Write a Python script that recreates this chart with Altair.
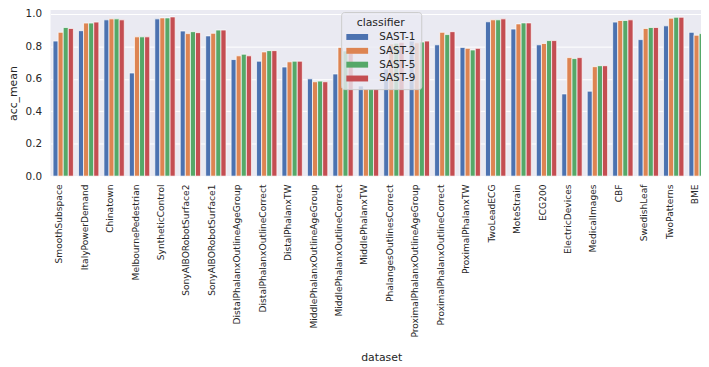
import altair as alt
import pandas as pd

datasets = [
    "SmoothSubspace", "ItalyPowerDemand", "Chinatown", "MelbournePedestrian",
    "SyntheticControl", "SonyAIBORobotSurface2", "SonyAIBORobotSurface1",
    "DistalPhalanxOutlineAgeGroup", "DistalPhalanxOutlineCorrect", "DistalPhalanxTW",
    "MiddlePhalanxOutlineAgeGroup", "MiddlePhalanxOutlineCorrect", "MiddlePhalanxTW",
    "PhalangesOutlinesCorrect", "ProximalPhalanxOutlineAgeGroup",
    "ProximalPhalanxOutlineCorrect", "ProximalPhalanxTW", "TwoLeadECG", "MoteStrain",
    "ECG200", "ElectricDevices", "MedicalImages", "CBF", "SwedishLeaf", "TwoPatterns", "BME",
]
classifiers = ["SAST-1", "SAST-2", "SAST-5", "SAST-9"]

sast1 = [0.833, 0.897, 0.964, 0.636, 0.970, 0.895, 0.865, 0.719, 0.709, 0.673, 0.600, 0.630, 0.556,
         0.661, 0.833, 0.810, 0.794, 0.952, 0.907, 0.810, 0.507, 0.524, 0.950, 0.842, 0.927, 0.887]
sast2 = [0.887, 0.944, 0.970, 0.859, 0.976, 0.879, 0.881, 0.742, 0.766, 0.705, 0.582, 0.794, 0.538,
         0.815, 0.822, 0.887, 0.788, 0.964, 0.939, 0.818, 0.731, 0.675, 0.960, 0.911, 0.974, 0.869]
sast5 = [0.917, 0.944, 0.970, 0.859, 0.976, 0.891, 0.901, 0.752, 0.774, 0.709, 0.586, 0.772, 0.538,
         0.820, 0.827, 0.873, 0.778, 0.964, 0.945, 0.836, 0.725, 0.681, 0.960, 0.917, 0.980, 0.879]
sast9 = [0.911, 0.950, 0.964, 0.859, 0.982, 0.885, 0.901, 0.742, 0.774, 0.709, 0.582, 0.760, 0.538,
         0.825, 0.833, 0.891, 0.788, 0.970, 0.945, 0.836, 0.731, 0.681, 0.964, 0.917, 0.980, 0.880]

palette = ["#4C72B0", "#DD8452", "#55A868", "#C44E52"]

rows = []
for i, d in enumerate(datasets):
    for c, vals in zip(classifiers, [sast1, sast2, sast5, sast9]):
        rows.append({"dataset": d, "classifier": c, "acc_mean": vals[i]})
df = pd.DataFrame(rows)

TXT = "#262626"

chart = alt.Chart(df).mark_bar(stroke="white", strokeWidth=0.7, clip=True).encode(
    x=alt.X(
        "dataset:N", sort=datasets, title="dataset",
        scale=alt.Scale(range=[0, 669], paddingInner=0.2, paddingOuter=0.1),
        axis=alt.Axis(labelAngle=-90, labelFontSize=9.2, labelPadding=8, labelOffset=-4,
                      ticks=False, domain=False, grid=False, titleFontSize=11,
                      titlePadding=15, labelColor=TXT, titleColor=TXT,
                      titleFontWeight="normal"),
    ),
    xOffset=alt.XOffset("classifier:N", sort=classifiers,
                        scale=alt.Scale(paddingInner=0, paddingOuter=0)),
    y=alt.Y(
        "acc_mean:Q", title="acc_mean",
        scale=alt.Scale(domain=[0, 1.0244], nice=False, zero=True),
        axis=alt.Axis(values=[0, 0.2, 0.4, 0.6, 0.8, 1.0], format=".1f", ticks=False,
                      domain=False, grid=True, gridColor="white", gridWidth=1,
                      labelFontSize=10.5, labelPadding=9, labelColor=TXT,
                      titleFontSize=11, titlePadding=7, titleColor=TXT,
                      titleFontWeight="normal"),
    ),
    color=alt.Color(
        "classifier:N", sort=classifiers,
        scale=alt.Scale(domain=classifiers, range=palette),
        legend=alt.Legend(
            title="classifier", orient="none", legendX=294, legendY=2,
            titleAnchor="middle", titleFontSize=11, titleFontWeight="normal",
            titleColor=TXT, titlePadding=4, labelFontSize=10.5, labelColor=TXT,
            symbolType="M-1,-0.6H3.4V0.6H-1Z", symbolSize=100, symbolStrokeWidth=0,
            symbolOpacity=1, labelOffset=23, rowPadding=3, padding=5,
            fillColor="rgba(234,234,242,0.8)", strokeColor="#cccccc", cornerRadius=3,
        ),
    ),
).properties(
    width=658, height=168,
    autosize=alt.AutoSizeParams(type="none"),
    padding={"left": 43, "top": 0, "right": 0, "bottom": 190},
).configure(font="DejaVu Sans").configure_view(fill="#EAEAF2", strokeWidth=0)

chart.save("out.html", embed_options={"renderer": "svg", "actions": False})
